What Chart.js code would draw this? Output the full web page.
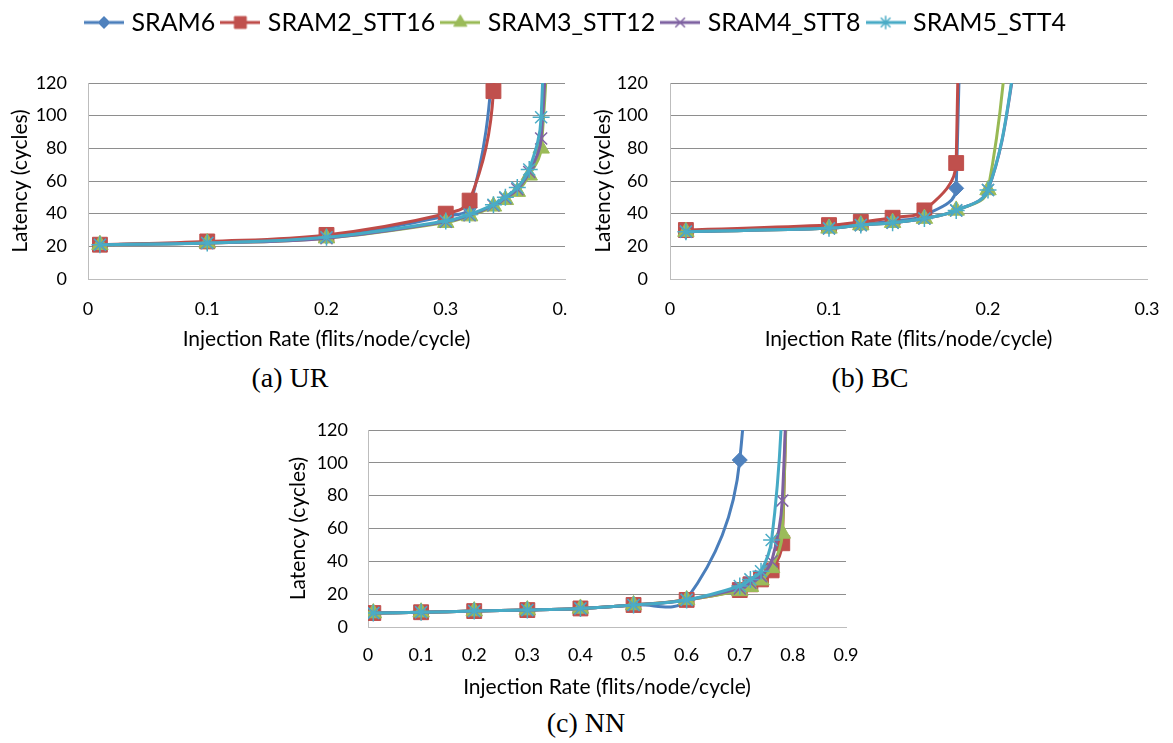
<!DOCTYPE html>
<html>
<head>
<meta charset="utf-8">
<script src="https://cdn.jsdelivr.net/npm/chart.js@4/dist/chart.umd.min.js"></script>
<style>
  html, body { margin: 0; padding: 0; background: #fff; }
  body { width: 1173px; height: 743px; position: relative; overflow: hidden; }
  canvas { display: block; }
  .box { position: absolute; }
  .clip { overflow: hidden; }
  .cap { position: absolute; font-family: 'Liberation Serif', serif; font-size: 28px; line-height: 28px; color: #000; transform: translateX(-50%); white-space: nowrap; }
</style>
</head>
<body>
<canvas id="legend" class="box" width="1173" height="90" style="left:0;top:0"></canvas>
<div class="box clip" style="left:0;top:60px;width:567px;height:300px"><canvas id="ur" width="610" height="300"></canvas></div>
<canvas id="bc" class="box" width="588" height="300" style="left:585px;top:60px"></canvas>
<canvas id="nn" class="box" width="600" height="300" style="left:280px;top:400px"></canvas>
<div class="cap" style="left:290px;top:364px">(a) UR</div>
<div class="cap" style="left:870px;top:364px">(b) BC</div>
<div class="cap" style="left:586px;top:709px">(c) NN</div>
<script>
// series names
const SERIES = ['SRAM6', 'SRAM2_STT16', 'SRAM3_STT12', 'SRAM4_STT8', 'SRAM5_STT4'];

// (a) UR - injection rates and latencies
const UR_RATE_A = [0.01, 0.1, 0.2, 0.3, 0.32, 0.34, 0.35];
const UR_RATE_B = [0.01, 0.1, 0.2, 0.3, 0.32, 0.34, 0.35, 0.36, 0.37, 0.38, 0.39];
const UR_SRAM6 = [21, 22.5, 26, 38.5, 44, 140, 400];
const UR_SRAM2_STT16 = [21, 23, 27, 40, 48, 115, 400];
const UR_SRAM3_STT12 = [21, 22, 25, 34.5, 38.5, 44.5, 48.5, 53.5, 63.5, 80, 230];
const UR_SRAM4_STT8 = [21, 22, 25, 35, 39, 45, 49.5, 55, 65.5, 86, 260];
const UR_SRAM5_STT4 = [21, 22, 25.5, 35.5, 39.5, 45.5, 50, 56, 67, 99, 400];

// (b) BC
const BC_RATE_A = [0.01, 0.1, 0.12, 0.14, 0.16, 0.18, 0.2];
const BC_RATE_B = [0.01, 0.1, 0.12, 0.14, 0.16, 0.18, 0.2, 0.22];
const BC_SRAM6 = [29, 32, 33.5, 35.5, 39, 55.5, 1500];
const BC_SRAM2_STT16 = [30, 33, 35, 37.5, 42, 71, 2000];
const BC_SRAM3_STT12 = [29, 31, 33, 34.5, 37, 42, 54.5, 250];
const BC_SRAM4_STT8 = [29, 31, 33, 34.5, 37, 42, 54.5, 148];
const BC_SRAM5_STT4 = [29, 31, 33, 34.5, 37, 42, 54.5, 150];

// (c) NN
const NN_RATE_A = [0.01, 0.1, 0.2, 0.3, 0.4, 0.5, 0.6, 0.7, 0.72];
const NN_RATE_B = [0.01, 0.1, 0.2, 0.3, 0.4, 0.5, 0.6, 0.7, 0.72, 0.74, 0.76, 0.78, 0.8];
const NN_SRAM6 = [8.5, 9, 9.7, 10.3, 11.3, 13.4, 17, 101.7, 400];
const NN_SRAM2_STT16 = [8.5, 9, 9.7, 10.3, 11.3, 13.4, 16.5, 22.5, 26, 29, 34.5, 51, 400];
const NN_SRAM3_STT12 = [8.5, 9, 9.7, 10.3, 11.3, 13.4, 16.5, 22, 24.5, 28.5, 36, 57, 350];
const NN_SRAM4_STT8 = [8.5, 9, 9.7, 10.3, 11.3, 13.4, 16.5, 23.5, 27, 31, 40, 77, 300];
const NN_SRAM5_STT4 = [8.5, 9, 9.7, 10.3, 11.3, 13.4, 16.5, 25, 29, 34, 53, 140, 500];

const Y_TICKS_MAX = 120;
const X_TITLE = 'Injection Rate (flits/node/cycle)';
const Y_TITLE = 'Latency (cycles)';

// look
const LINE_COLORS = ['#4A7EBB', '#BE4B48', '#98B954', '#7D60A0', '#46AAC5'];
const MARK_COLORS = ['#4F81BD', '#C0504D', '#9BBB59', '#8064A2', '#4BACC6'];
const MARKERS = [
  { style: 'rectRot', r: 7.5, bw: 1 },
  { style: 'rect', r: 10.5, bw: 1 },
  { style: 'triangle', r: 9.5, bw: 1 },
  { style: 'crossRot', r: 8.5, bw: 1.5 },
  { style: 'star', r: 8.5, bw: 1.5 }
];
const GRID_GRAY = '#8e8e8e';
const AXIS_GRAY = '#bdbdbd';

Chart.defaults.font.family = 'Lato';
Chart.defaults.color = '#000';

function series(i, xs, ys) {
  return {
    label: SERIES[i],
    data: xs.map((x, k) => ({ x: x, y: ys[k] })),
    borderColor: LINE_COLORS[i],
    backgroundColor: MARK_COLORS[i],
    pointBackgroundColor: MARK_COLORS[i],
    pointBorderColor: MARK_COLORS[i],
    pointStyle: MARKERS[i].style,
    pointRadius: MARKERS[i].r,
    pointBorderWidth: MARKERS[i].bw,
    borderWidth: 3,
    tension: 0.38,
    fill: false,
    order: SERIES.length - i   // later series on top, like the original
  };
}

function plot(id, xMax, g, datasets) {
  return new Chart(document.getElementById(id), {
    type: 'line',
    data: { datasets: datasets },
    options: {
      responsive: false,
      animation: false,
      devicePixelRatio: 1,
      layout: { padding: { top: g.top, right: g.right, left: 0, bottom: 0 } },
      elements: { line: { capBezierPoints: false } },
      plugins: { legend: { display: false }, tooltip: { enabled: false } },
      scales: {
        x: {
          type: 'linear', min: 0, max: xMax,
          ticks: { stepSize: 0.1, padding: g.xTickPad, font: { size: 18 } },
          grid: { display: false, drawTicks: false },
          border: { display: true, color: AXIS_GRAY, width: 1 },
          title: { display: true, text: X_TITLE, font: { size: 21 }, padding: { top: 0, bottom: g.xTitlePad } },
          afterFit: s => { s.height = g.xAxisH; s.paddingLeft = 0; s.paddingRight = 0; }
        },
        y: {
          type: 'linear', min: 0, max: Y_TICKS_MAX,
          ticks: { stepSize: 20, padding: g.yTickPad, font: { size: 18 } },
          grid: { drawTicks: false, color: c => (c.tick && c.tick.value === 0) ? AXIS_GRAY : GRID_GRAY },
          border: { display: true, color: AXIS_GRAY, width: 1 },
          title: { display: true, text: Y_TITLE, font: { size: 21 }, padding: { top: g.yTitlePad, bottom: 0 } },
          afterFit: s => { s.width = g.yAxisW; s.paddingTop = 0; s.paddingBottom = 0; }
        }
      }
    }
  });
}

plot('ur', 0.4, { top: 23, right: 45, yAxisW: 88, yTitlePad: 8, yTickPad: 21, xAxisH: 81, xTickPad: 19, xTitlePad: 8 }, [
  series(0, UR_RATE_A, UR_SRAM6),
  series(1, UR_RATE_A, UR_SRAM2_STT16),
  series(2, UR_RATE_B, UR_SRAM3_STT12),
  series(3, UR_RATE_B, UR_SRAM4_STT8),
  series(4, UR_RATE_B, UR_SRAM5_STT4)
]);

plot('bc', 0.3, { top: 23, right: 26, yAxisW: 85, yTitlePad: 6, yTickPad: 22, xAxisH: 81, xTickPad: 19, xTitlePad: 8 }, [
  series(0, BC_RATE_A, BC_SRAM6),
  series(1, BC_RATE_A, BC_SRAM2_STT16),
  series(2, BC_RATE_B, BC_SRAM3_STT12),
  series(3, BC_RATE_B, BC_SRAM4_STT8),
  series(4, BC_RATE_B, BC_SRAM5_STT4)
]);

plot('nn', 0.9, { top: 30, right: 34, yAxisW: 88, yTitlePad: 6, yTickPad: 20, xAxisH: 73, xTickPad: 17, xTitlePad: 0 }, [
  series(0, NN_RATE_A, NN_SRAM6),
  series(1, NN_RATE_B, NN_SRAM2_STT16),
  series(2, NN_RATE_B, NN_SRAM3_STT12),
  series(3, NN_RATE_B, NN_SRAM4_STT8),
  series(4, NN_RATE_B, NN_SRAM5_STT4)
]);

// legend icons: a short line with the series marker on it
function legendIcon(i) {
  const c = document.createElement('canvas');
  c.width = 40; c.height = 20;
  const g = c.getContext('2d');
  g.strokeStyle = LINE_COLORS[i];
  g.lineWidth = 3;
  g.beginPath(); g.moveTo(0, 10); g.lineTo(40, 10); g.stroke();
  g.fillStyle = MARK_COLORS[i];
  g.strokeStyle = MARK_COLORS[i];
  g.lineWidth = MARKERS[i].bw;
  Chart.helpers.drawPoint(g, { pointStyle: MARKERS[i].style, radius: MARKERS[i].r * 0.8, borderWidth: MARKERS[i].bw, rotation: 0 }, 20, 10);
  return c;
}
const icons = SERIES.map((s, i) => legendIcon(i));

new Chart(document.getElementById('legend'), {
  type: 'line',
  data: { datasets: SERIES.map((s, i) => ({ label: s, data: [], borderColor: LINE_COLORS[i], backgroundColor: MARK_COLORS[i] })) },
  options: {
    responsive: false,
    animation: false,
    devicePixelRatio: 1,
    layout: { padding: { top: 0, left: 0, right: 18 } },
    scales: { x: { display: false }, y: { display: false } },
    plugins: {
      tooltip: { enabled: false },
      legend: {
        display: true,
        position: 'top',
        labels: {
          usePointStyle: true,
          pointStyleWidth: 30,
          padding: 10,
          color: '#000',
          font: { size: 25 },
          generateLabels: () => SERIES.map((s, i) => ({
            text: s, pointStyle: icons[i], fillStyle: MARK_COLORS[i], strokeStyle: MARK_COLORS[i],
            lineWidth: 0, hidden: false, datasetIndex: i
          }))
        }
      }
    }
  }
});
</script>
</body>
</html>
